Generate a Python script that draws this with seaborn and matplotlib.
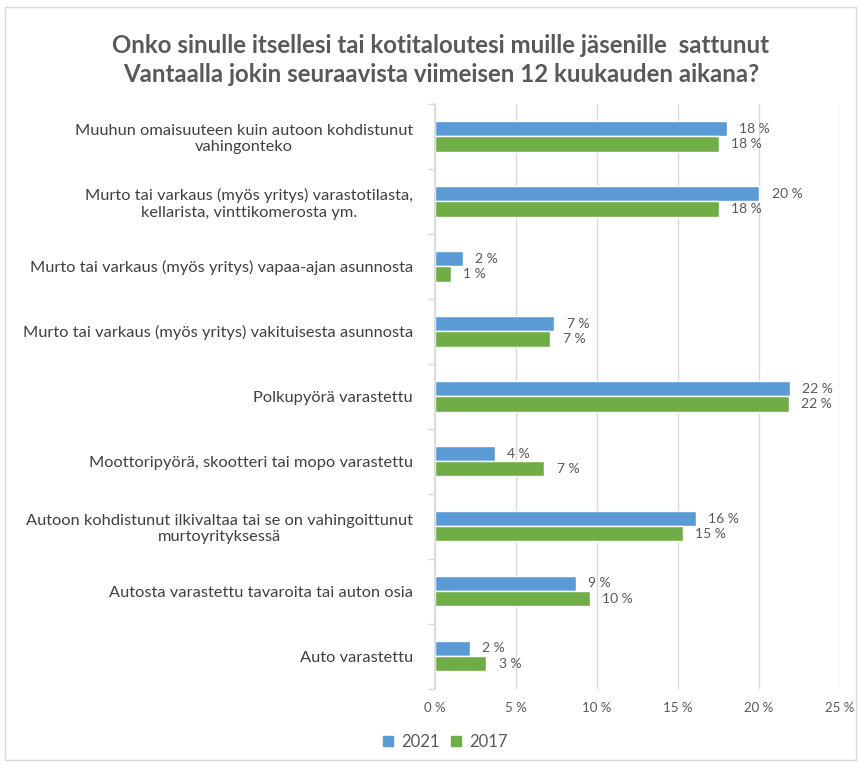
import pandas as pd
import seaborn as sns
import matplotlib.pyplot as plt
from matplotlib.patches import Rectangle
from matplotlib.lines import Line2D
from matplotlib.ticker import FixedLocator

# Chart data
categories = [
    'Muuhun omaisuuteen kuin autoon kohdistunut\nvahingonteko',
    'Murto tai varkaus (myös yritys) varastotilasta,\nkellarista, vinttikomerosta ym.',
    'Murto tai varkaus (myös yritys) vapaa-ajan asunnosta',
    'Murto tai varkaus (myös yritys) vakituisesta asunnosta',
    'Polkupyörä varastettu',
    'Moottoripyörä, skootteri tai mopo varastettu',
    'Autoon kohdistunut ilkivaltaa tai se on vahingoittunut\nmurtoyrityksessä',
    'Autosta varastettu tavaroita tai auton osia',
    'Auto varastettu',
]
values_2021 = [18.0, 20.0, 1.7, 7.35, 21.9, 3.7, 16.1, 8.7, 2.15]
values_2017 = [17.5, 17.5, 0.97, 7.1, 21.85, 6.75, 15.3, 9.55, 3.15]
years = ['2021', '2017']
x_ticks = [0, 5, 10, 15, 20, 25]

title = ('Onko sinulle itsellesi tai kotitaloutesi muille jäsenille  sattunut\n'
         'Vantaalla jokin seuraavista viimeisen 12 kuukauden aikana?')

colors = {'2021': '#5B9BD5', '2017': '#70AD47'}
text_gray = '#595959'

df = pd.DataFrame({
    'Kategoria': categories * 2,
    'Arvo': values_2021 + values_2017,
    'Vuosi': ['2021'] * len(categories) + ['2017'] * len(categories),
})

sns.set_theme(style='white')
plt.rcParams['font.family'] = ['Lato', 'DejaVu Sans']

fig = plt.figure(figsize=(8.61, 7.62), dpi=100)
ax = fig.add_axes([435 / 861, 1 - 688.5 / 762, 405 / 861, 584.5 / 762])

sns.barplot(data=df, y='Kategoria', x='Arvo', hue='Vuosi', hue_order=years,
            order=categories, palette=colors, orient='h', width=0.47,
            saturation=1, ax=ax, legend=False)

# data labels
for cont in ax.containers:
    ax.bar_label(cont, labels=[f'{round(v.get_width()):d} %' for v in cont],
                 padding=9, fontsize=10, color=text_gray)

ax.set_xlim(0, 25)
ax.set_ylim(len(categories) - 0.5, -0.5)
ax.set_xticks(x_ticks)
ax.set_xticklabels([f'{t} %' for t in x_ticks], fontsize=9.5, color=text_gray)
ax.xaxis.grid(True, color='#D9D9D9', linewidth=1)
ax.set_axisbelow(True)
ax.set_xlabel('')
ax.set_ylabel('')
ax.tick_params(axis='x', length=0, pad=10)
ax.tick_params(axis='y', which='major', length=0, pad=16, labelsize=11.8,
               labelcolor='#404040')
for lbl in ax.get_yticklabels():
    lbl.set_multialignment('center')
ax.yaxis.set_minor_locator(FixedLocator([i - 0.5 for i in range(len(categories) + 1)]))
ax.tick_params(axis='y', which='minor', length=5, width=1, color='#D9D9D9', left=True)

for side in ['top', 'right', 'bottom']:
    ax.spines[side].set_visible(False)
ax.spines['left'].set_color('#D9D9D9')

fig.text(0.512, 1 - 60 / 762, title, ha='center', va='center', fontsize=17.3,
         fontweight='bold', color=text_gray, linespacing=1.3)

handles = [Line2D([], [], marker='s', linestyle='', markersize=7,
                  color=colors[y]) for y in years]
fig.legend(handles, years, loc='center left', bbox_to_anchor=(375 / 861, 1 - 742 / 762),
           ncol=2, frameon=False, fontsize=12, handlelength=0.8,
           handletextpad=0.4, columnspacing=0.55, labelcolor=text_gray,
           borderaxespad=0)

fig.patches.append(Rectangle((5 / 861, 2 / 762), 851 / 861, 753 / 762,
                             transform=fig.transFigure, fill=False,
                             edgecolor='#D9D9D9', linewidth=1))

plt.savefig('out.png', dpi=100)
plt.close()
